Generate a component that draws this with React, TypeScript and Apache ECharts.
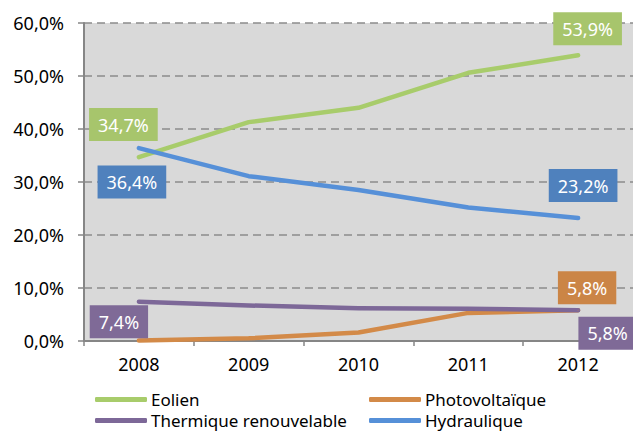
import { useEffect, useRef } from 'react';
import * as echarts from 'echarts';

const years = ['2008', '2009', '2010', '2011', '2012'];
const eolien = [34.7, 41.3, 44.0, 50.6, 53.9];
const photovoltaique = [0.1, 0.5, 1.6, 5.3, 5.8];
const thermique = [7.4, 6.7, 6.2, 6.1, 5.8];
const hydraulique = [36.4, 31.1, 28.5, 25.2, 23.2];
const seriesNames = ['Eolien', 'Photovoltaïque', 'Thermique renouvelable', 'Hydraulique'];

const FONT = 'Noto Sans';
const fmt = (v: number) => v.toFixed(1).replace('.', ',') + '%';

function withEndLabels(values: number[], bg: string, firstOffset: number[] | null, lastOffset: number[] | null) {
  return values.map((v, i) => {
    let off: number[] | null = null;
    if (i === 0) off = firstOffset;
    if (i === values.length - 1) off = lastOffset;
    if (!off) return { value: v };
    return {
      value: v,
      label: {
        show: true,
        position: 'inside',
        offset: off,
        formatter: () => fmt(v),
        color: '#ffffff',
        fontFamily: FONT,
        fontSize: 18,
        lineHeight: 21,
        backgroundColor: bg,
        padding: [6, 9, 6, 9],
      },
    };
  });
}

const legendItem = (name: string, left: number, top: number) => ({
  left,
  top,
  data: [name],
  itemWidth: 52,
  itemHeight: 5,
  itemGap: 0,
  padding: 0,
  icon: 'roundRect',
  textStyle: { fontFamily: FONT, fontSize: 17, lineHeight: 19, color: '#000', padding: [0, 0, 0, -1] },
});

export default function App() {
  const ref = useRef<HTMLDivElement>(null);
  useEffect(() => {
    if (!ref.current) return;
    const chart = echarts.init(ref.current, null, { renderer: 'svg' });
    const mk = (name: string, data: any[], color: string) => ({
      name,
      type: 'line',
      data,
      symbol: 'circle',
      symbolSize: 1,
      itemStyle: { color },
      lineStyle: { color, width: 4.5, cap: 'round', join: 'round' },
      emphasis: { disabled: true },
    });
    chart.setOption({
      animation: false,
      textStyle: { fontFamily: FONT },
      grid: {
        left: 84,
        top: 23,
        height: 318,
        right: -5,
        show: true,
        backgroundColor: '#d9d9d9',
        borderWidth: 0,
        containLabel: false,
      },
      legend: [
        legendItem(seriesNames[0], 95, 390),
        legendItem(seriesNames[2], 95, 411),
        legendItem(seriesNames[1], 369, 390),
        legendItem(seriesNames[3], 369, 411),
      ],
      xAxis: {
        type: 'category',
        data: years,
        boundaryGap: true,
        axisLine: { lineStyle: { color: '#868686', width: 2 } },
        axisTick: { show: true, length: 5, lineStyle: { color: '#868686', width: 1.5 } },
        axisLabel: { fontFamily: FONT, fontSize: 18, color: '#000', margin: 14 },
      },
      yAxis: {
        type: 'value',
        min: 0,
        max: 60,
        interval: 10,
        axisLine: { show: true, lineStyle: { color: '#868686', width: 2 } },
        axisTick: { show: true, length: 6, lineStyle: { color: '#868686', width: 1.5 } },
        axisLabel: { fontFamily: FONT, fontSize: 18, color: '#000', margin: 20, formatter: (v: number) => fmt(v) },
        splitLine: { show: true, lineStyle: { color: '#8c8c8c', width: 1.6, type: [8, 5] } },
      },
      series: [
        mk(seriesNames[0], withEndLabels(eolien, '#a7c56c', [-15.5, -32.5], [9.5, -26.5]), '#a8cc6b'),
        mk(seriesNames[1], withEndLabels(photovoltaique, '#cb8546', null, [9, -22.5]), '#d38a48'),
        mk(seriesNames[2], withEndLabels(thermique, '#7f6a97', [-20, 20], [29.5, 23]), '#7d6898'),
        mk(seriesNames[3], withEndLabels(hydraulique, '#4f81bd', [-7, 34], [5, -32.5]), '#5690d8'),
      ],
    });
    return () => chart.dispose();
  }, []);
  return <div ref={ref} style={{ position: 'absolute', left: 0, top: 0, width: 633, height: 433 }} />;
}
